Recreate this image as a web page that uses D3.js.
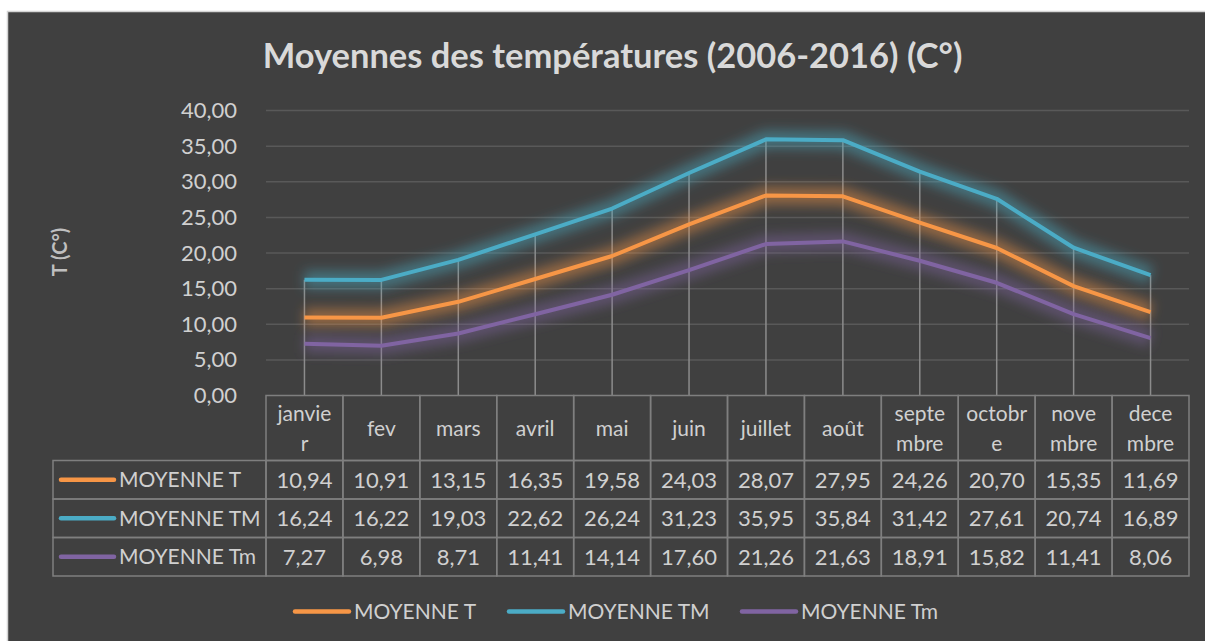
<!DOCTYPE html>
<html>
<head>
<meta charset="utf-8">
<script src="https://cdn.jsdelivr.net/npm/d3@7"></script>
<style>
  body { margin: 0; background: #ffffff; }
  svg { display: block; font-family: Lato, "Open Sans", sans-serif; }
</style>
</head>
<body>
<svg id="chart" width="1205" height="641"></svg>
<script>
// month labels as they wrap in the table header
const months = ["janvie\nr", "fev", "mars", "avril", "mai", "juin", "juillet", "août", "septe\nmbre", "octobr\ne", "nove\nmbre", "dece\nmbre"];
const moyenneT = [10.94, 10.91, 13.15, 16.35, 19.58, 24.03, 28.07, 27.95, 24.26, 20.70, 15.35, 11.69];
const moyenneTM = [16.24, 16.22, 19.03, 22.62, 26.24, 31.23, 35.95, 35.84, 31.42, 27.61, 20.74, 16.89];
const moyenneTm = [7.27, 6.98, 8.71, 11.41, 14.14, 17.60, 21.26, 21.63, 18.91, 15.82, 11.41, 8.06];
const seriesNames = ["MOYENNE T", "MOYENNE TM", "MOYENNE Tm"];
const yTicks = [0, 5, 10, 15, 20, 25, 30, 35, 40];

const colors = ["#f79646", "#4bacc6", "#8064a2"];
const series = [moyenneT, moyenneTM, moyenneTm].map((values, i) => ({
  name: seriesNames[i],
  color: colors[i],
  values: values,
}));

const textColor = "#d0d0d0";
const borderColor = "#7f7f7f";
const fmt = (v) => d3.format(".2f")(v).replace(".", ",");

const svg = d3.select("#chart");

// chart background
svg
  .append("rect")
  .attr("x", 7.5)
  .attr("y", 11.5)
  .attr("width", 1205)
  .attr("height", 641)
  .attr("fill", "#404040")
  .attr("stroke", "#d4d4d4")
  .attr("stroke-width", 1.5);

// scales
const x = d3.scaleBand().domain(d3.range(months.length)).range([266, 1189]);
const y = d3.scaleLinear().domain([0, 40]).range([395.5, 110.5]);

// title, fitted to width
const title = svg
  .append("text")
  .attr("x", 612.5)
  .attr("y", 68)
  .attr("text-anchor", "middle")
  .attr("fill", "#d9d9d9")
  .style("font-weight", "bold")
  .style("font-size", "30px")
  .text("Moyennes des températures (2006-2016) (C°)");
const tw = title.node().getComputedTextLength();
title.style("font-size", (30 * 700) / tw + "px");

// y axis title
svg
  .append("text")
  .attr("transform", "translate(67,252) rotate(-90)")
  .attr("text-anchor", "middle")
  .attr("fill", "#bfbfbf")
  .style("font-weight", "bold")
  .style("font-size", "20px")
  .text("T (C°)");

// gridlines
svg
  .append("g")
  .selectAll("line")
  .data(yTicks.filter((d) => d > 0))
  .join("line")
  .attr("x1", x.range()[0])
  .attr("x2", x.range()[1])
  .attr("y1", (d) => y(d))
  .attr("y2", (d) => y(d))
  .attr("stroke", "#595959")
  .attr("stroke-width", 1.5);

// y axis labels
const yAxis = svg
  .append("g")
  .attr("transform", "translate(266,0)")
  .call(
    d3.axisLeft(y).tickValues(yTicks).tickFormat(fmt).tickSize(0).tickPadding(29)
  );
yAxis.select(".domain").remove();
yAxis
  .selectAll("text")
  .attr("fill", textColor)
  .style("font-family", "Lato, sans-serif")
  .style("font-size", "22px");

// drop lines from highest point to the axis
svg
  .append("g")
  .selectAll("line")
  .data(months)
  .join("line")
  .attr("x1", (d, i) => x(i) + x.bandwidth() / 2)
  .attr("x2", (d, i) => x(i) + x.bandwidth() / 2)
  .attr("y1", (d, i) => y(d3.max(series, (s) => s.values[i])))
  .attr("y2", y(0))
  .attr("stroke", "#8c8c8c")
  .attr("stroke-width", 1.5);

// glow filter
const defs = svg.append("defs");
defs
  .append("filter")
  .attr("id", "glow")
  .attr("x", "-10%")
  .attr("y", "-30%")
  .attr("width", "120%")
  .attr("height", "160%")
  .append("feGaussianBlur")
  .attr("stdDeviation", 6);

const line = d3
  .line()
  .x((d, i) => x(i) + x.bandwidth() / 2)
  .y((d) => y(d));

// lines with glow
series.forEach((s) => {
  svg
    .append("path")
    .datum(s.values)
    .attr("d", line)
    .attr("fill", "none")
    .attr("stroke", s.color)
    .attr("stroke-width", 18)
    .attr("stroke-opacity", 0.45)
    .attr("stroke-linejoin", "round")
    .attr("filter", "url(#glow)");
});
series.forEach((s) => {
  svg
    .append("path")
    .datum(s.values)
    .attr("d", line)
    .attr("fill", "none")
    .attr("stroke", s.color)
    .attr("stroke-width", 4)
    .attr("stroke-linejoin", "round");
});

// data table
const table = svg.append("g");
const headTop = 395.5;
const headBottom = 460.5;
const rowH = 38.5;
const tableLeft = 53;
const tableRight = x.range()[1];
const tableBottom = headBottom + rowH * series.length;

// header cells
table
  .append("g")
  .selectAll("rect")
  .data(months)
  .join("rect")
  .attr("x", (d, i) => x(i))
  .attr("y", headTop)
  .attr("width", x.bandwidth())
  .attr("height", headBottom - headTop)
  .attr("fill", "none")
  .attr("stroke", borderColor)
  .attr("stroke-width", 1.5);

const head = table
  .append("g")
  .selectAll("text")
  .data(months)
  .join("text")
  .attr("x", (d, i) => x(i) + x.bandwidth() / 2)
  .attr("text-anchor", "middle")
  .attr("fill", textColor)
  .style("font-size", "21px");
head.each(function (d) {
  const parts = d.split("\n");
  const t = d3.select(this);
  const mid = (headTop + headBottom) / 2;
  parts.forEach((p, k) => {
    t.append("tspan")
      .attr("x", t.attr("x"))
      .attr("y", mid + (k - (parts.length - 1) / 2) * 30)
      .attr("dy", "0.36em")
      .text(p);
  });
});

// rows
series.forEach((s, r) => {
  const top = headBottom + r * rowH;
  const g = table.append("g");
  g.append("rect")
    .attr("x", tableLeft)
    .attr("y", top)
    .attr("width", x.range()[0] - tableLeft)
    .attr("height", rowH)
    .attr("fill", "none")
    .attr("stroke", borderColor)
    .attr("stroke-width", 1.5);
  g.append("line")
    .attr("x1", 61)
    .attr("x2", 114)
    .attr("y1", top + rowH / 2)
    .attr("y2", top + rowH / 2)
    .attr("stroke", s.color)
    .attr("stroke-width", 4.5)
    .attr("stroke-linecap", "round");
  g.append("text")
    .attr("x", 119)
    .attr("y", top + rowH / 2)
    .attr("dy", "0.36em")
    .attr("fill", textColor)
    .style("font-size", "21px")
    .text(s.name);
  g.selectAll("rect.cell")
    .data(s.values)
    .join("rect")
    .attr("class", "cell")
    .attr("x", (d, i) => x(i))
    .attr("y", top)
    .attr("width", x.bandwidth())
    .attr("height", rowH)
    .attr("fill", "none")
    .attr("stroke", borderColor)
    .attr("stroke-width", 1.5);
  g.selectAll("text.val")
    .data(s.values)
    .join("text")
    .attr("class", "val")
    .attr("x", (d, i) => x(i) + x.bandwidth() / 2)
    .attr("y", top + rowH / 2)
    .attr("dy", "0.36em")
    .attr("text-anchor", "middle")
    .attr("fill", textColor)
    .style("font-size", "22px")
    .text(fmt);
});

// bottom legend
const legendX = [294, 508, 741];
const legend = svg
  .append("g")
  .selectAll("g")
  .data(series)
  .join("g")
  .attr("transform", (d, i) => "translate(" + legendX[i] + ",611.5)");
legend
  .append("line")
  .attr("x1", 1)
  .attr("x2", 55)
  .attr("stroke", (d) => d.color)
  .attr("stroke-width", 4.5)
  .attr("stroke-linecap", "round");
legend
  .append("text")
  .attr("x", 60)
  .attr("dy", "0.36em")
  .attr("fill", textColor)
  .style("font-size", "21px")
  .text((d) => d.name);
</script>
</body>
</html>
